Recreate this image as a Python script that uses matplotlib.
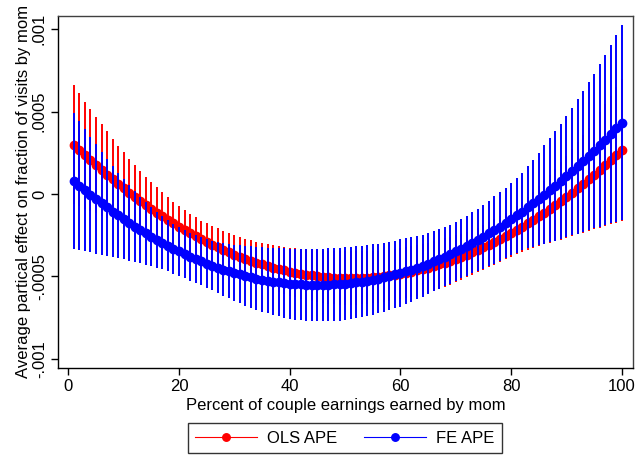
import matplotlib
matplotlib.use("Agg")
import matplotlib.pyplot as plt
import numpy as np

# percent of couple earnings earned by mom
share = list(range(1, 101))

# values, in units of 1e-4
ols_ape = [
    3.00, 2.68, 2.37, 2.06, 1.76, 1.46, 1.17, 0.89, 0.62, 0.35,
    0.08, -0.17, -0.42, -0.66, -0.90, -1.13, -1.35, -1.57, -1.78, -1.99,
    -2.18, -2.38, -2.56, -2.74, -2.91, -3.08, -3.23, -3.39, -3.53, -3.67,
    -3.80, -3.93, -4.05, -4.16, -4.27, -4.37, -4.47, -4.55, -4.63, -4.71,
    -4.78, -4.84, -4.89, -4.94, -4.98, -5.02, -5.05, -5.07, -5.09, -5.10,
    -5.10, -5.10, -5.09, -5.07, -5.05, -5.02, -4.98, -4.94, -4.89, -4.84,
    -4.78, -4.71, -4.63, -4.55, -4.47, -4.37, -4.27, -4.16, -4.05, -3.93,
    -3.80, -3.67, -3.53, -3.39, -3.23, -3.08, -2.91, -2.74, -2.56, -2.38,
    -2.18, -1.99, -1.78, -1.57, -1.35, -1.13, -0.90, -0.66, -0.42, -0.17,
    0.08, 0.35, 0.62, 0.89, 1.17, 1.46, 1.76, 2.06, 2.37, 2.68,
]
ols_ci = [
    3.62, 3.43, 3.25, 3.08, 2.93, 2.79, 2.65, 2.47, 2.31, 2.18,
    2.06, 1.93, 1.81, 1.71, 1.62, 1.53, 1.45, 1.38, 1.32, 1.27,
    1.22, 1.18, 1.15, 1.13, 1.13, 1.13, 1.14, 1.16, 1.17, 1.19,
    1.21, 1.23, 1.26, 1.28, 1.31, 1.33, 1.36, 1.39, 1.43, 1.46,
    1.49, 1.52, 1.54, 1.56, 1.58, 1.59, 1.60, 1.61, 1.62, 1.62,
    1.62, 1.62, 1.61, 1.60, 1.59, 1.58, 1.57, 1.56, 1.56, 1.55,
    1.55, 1.54, 1.53, 1.52, 1.52, 1.51, 1.51, 1.50, 1.47, 1.43,
    1.40, 1.38, 1.37, 1.36, 1.36, 1.37, 1.38, 1.39, 1.41, 1.43,
    1.46, 1.52, 1.60, 1.70, 1.81, 1.93, 2.06, 2.20, 2.34, 2.49,
    2.64, 2.80, 2.96, 3.13, 3.31, 3.50, 3.70, 3.90, 4.11, 4.33,
]
fe_ape = [
    0.79, 0.51, 0.23, -0.04, -0.30, -0.56, -0.81, -1.06, -1.30, -1.53,
    -1.75, -1.97, -2.18, -2.39, -2.59, -2.78, -2.96, -3.14, -3.32, -3.48,
    -3.64, -3.80, -3.94, -4.08, -4.22, -4.34, -4.46, -4.58, -4.69, -4.79,
    -4.88, -4.97, -5.05, -5.13, -5.19, -5.26, -5.31, -5.36, -5.40, -5.44,
    -5.47, -5.49, -5.51, -5.52, -5.52, -5.52, -5.51, -5.49, -5.47, -5.44,
    -5.40, -5.36, -5.31, -5.26, -5.19, -5.13, -5.05, -4.97, -4.88, -4.79,
    -4.69, -4.58, -4.46, -4.34, -4.22, -4.08, -3.94, -3.80, -3.64, -3.48,
    -3.32, -3.14, -2.96, -2.78, -2.59, -2.39, -2.18, -1.97, -1.75, -1.53,
    -1.30, -1.06, -0.81, -0.56, -0.30, -0.04, 0.23, 0.51, 0.79, 1.08,
    1.38, 1.68, 1.99, 2.31, 2.63, 2.96, 3.30, 3.64, 3.99, 4.34,
]
fe_ci = [
    4.13, 3.91, 3.70, 3.49, 3.31, 3.11, 2.92, 2.75, 2.59, 2.43,
    2.30, 2.15, 2.01, 1.89, 1.79, 1.69, 1.61, 1.55, 1.51, 1.49,
    1.47, 1.46, 1.46, 1.47, 1.48, 1.51, 1.54, 1.59, 1.64, 1.70,
    1.76, 1.82, 1.87, 1.91, 1.95, 1.99, 2.03, 2.07, 2.10, 2.13,
    2.15, 2.17, 2.18, 2.19, 2.20, 2.21, 2.21, 2.21, 2.21, 2.20,
    2.19, 2.18, 2.17, 2.15, 2.14, 2.12, 2.10, 2.08, 2.06, 2.04,
    2.01, 1.97, 1.92, 1.88, 1.85, 1.82, 1.80, 1.79, 1.79, 1.79,
    1.80, 1.82, 1.85, 1.89, 1.93, 1.98, 2.04, 2.08, 2.13, 2.19,
    2.26, 2.36, 2.49, 2.65, 2.82, 2.99, 3.16, 3.34, 3.49, 3.69,
    3.87, 4.09, 4.27, 4.47, 4.68, 4.93, 5.17, 5.40, 5.66, 5.91,
]
unit = 1e-4

yticks = [-0.001, -0.0005, 0, 0.0005, 0.001]
ytick_labels = ["-.001", "-.0005", "0", ".0005", ".001"]
xticks = [0, 20, 40, 60, 80, 100]

plt.rcParams["font.family"] = ["Liberation Sans", "DejaVu Sans"]
plt.rcParams["font.size"] = 12

x = np.array(share)
ols = np.array(ols_ape) * unit
ols_h = np.array(ols_ci) * unit
fe = np.array(fe_ape) * unit
fe_h = np.array(fe_ci) * unit

fig = plt.figure(figsize=(6.36, 4.55), dpi=100)
ax = fig.add_axes([0.0912, 0.1912, 0.9036, 0.7743])

ax.vlines(x, ols - ols_h, ols + ols_h, color="#ff0000", linewidth=1.4, zorder=2)
ax.plot(x, ols, color="#ff0000", marker="o", markersize=6, linewidth=0.8,
        label="OLS APE", zorder=3)
ax.vlines(x, fe - fe_h, fe + fe_h, color="#0000ff", linewidth=1.4, zorder=4)
ax.plot(x, fe, color="#0000ff", marker="o", markersize=6, linewidth=0.8,
        label="FE APE", zorder=5)

ax.set_xlim(-1.86, 101.97)
ax.set_ylim(-0.001056, 0.001083)
ax.set_xticks(xticks)
ax.set_yticks(yticks)
ax.set_yticklabels(ytick_labels, rotation=90, va="center")
ax.tick_params(direction="out", length=5, width=1, pad=3, labelsize=12)

ax.set_xlabel("Percent of couple earnings earned by mom", labelpad=3)
ax.set_ylabel("Average partical effect on fraction of visits by mom", labelpad=1)

for side in ["left", "bottom"]:
    ax.spines[side].set_color("black")
    ax.spines[side].set_linewidth(1.0)
for side in ["top", "right"]:
    ax.spines[side].set_color("#404040")
    ax.spines[side].set_linewidth(1.0)

leg = fig.legend(loc="center", bbox_to_anchor=(0.542, 0.0367), ncol=2,
                 frameon=True, fancybox=False, edgecolor="black",
                 handlelength=3.7, handletextpad=0.6, columnspacing=1.6,
                 markerscale=0.9, borderpad=0.45)
leg.get_frame().set_linewidth(1.0)

fig.savefig("out.png", dpi=100)
